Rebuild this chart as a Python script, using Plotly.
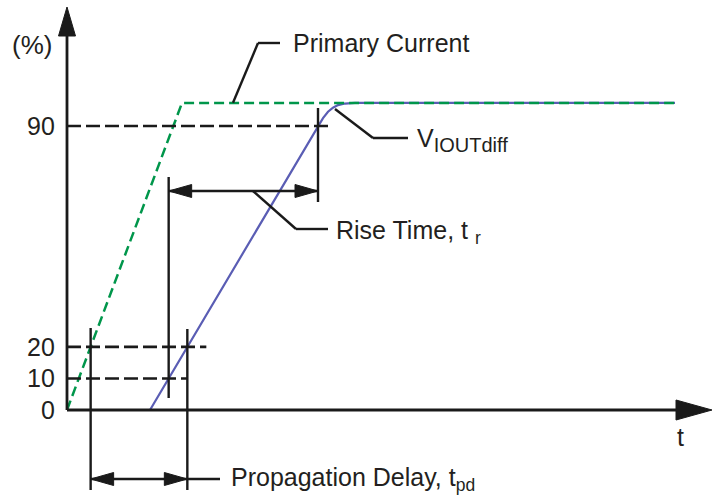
import numpy as np
import plotly.graph_objects as go

# ---- data (time in arbitrary units, signal in %) ----
primary_t = [0, 115, 608]
primary_pct = [0, 97.3, 97.3]
output_t = [83, 251, 256, 261, 266, 271, 278, 288, 608]
output_pct = [0, 90, 92.5, 94.5, 95.8, 96.6, 97.1, 97.3, 97.3]
tick_levels = [0, 10, 20, 90]
tick_labels = ["0", "10", "20", "90"]
levels = [10, 20, 90]

W, H = 719, 495
X0, Y0, KY = 67, 410, 3.156  # pixel origin and pixels per %

def X(px):
    return px - X0

def Y(py):
    return (Y0 - py) / KY

def PX(t):
    return t + X0

def PY(v):
    return Y0 - v * KY

# crossing times from the curves
def cross(ts, vs, lvl):
    vs = np.array(vs); ts = np.array(ts)
    i = int(np.argmax(vs >= vs.max()))
    return float(np.interp(lvl, vs[: i + 1], ts[: i + 1]))

t_pri20 = cross(primary_t, primary_pct, 20)
t_out10 = cross(output_t, output_pct, 10)
t_out20 = cross(output_t, output_pct, 20)
t_out90 = cross(output_t, output_pct, 90)

BLACK = "#1a1a1a"
GREEN = "#00964B"
BLUE = "#5A5DB4"
FONT = "Liberation Sans, Arial, sans-serif"

fig = go.Figure()
fig.add_trace(go.Scatter(x=output_t, y=output_pct, mode="lines",
                         line=dict(color=BLUE, width=2.2), hoverinfo="skip"))
fig.add_trace(go.Scatter(x=primary_t, y=primary_pct, mode="lines",
                         line=dict(color=GREEN, width=2.5, dash="10px,5px"), hoverinfo="skip"))

shapes = []

def line_px(x1, y1, x2, y2, width=2.4, dash=None, color=BLACK):
    d = dict(type="line", xref="x", yref="y", x0=X(x1), y0=Y(y1), x1=X(x2), y1=Y(y2),
             line=dict(color=color, width=width))
    if dash:
        d["line"]["dash"] = dash
    shapes.append(d)

def tri_px(pts):
    path = "M " + " L ".join(f"{X(a)},{Y(b)}" for a, b in pts) + " Z"
    shapes.append(dict(type="path", xref="x", yref="y", path=path,
                       fillcolor=BLACK, line=dict(color=BLACK, width=1)))

# axes
line_px(X0, Y0, X0, 30, width=2.8)
tri_px([(X0, 7), (X0 - 8.5, 36), (X0 + 8.5, 36)])
line_px(X0, Y0, 680, Y0, width=2.8)
tri_px([(712, Y0), (676, Y0 - 10), (676, Y0 + 10)])

# level guides
dash = "14px,5px"
line_px(X0, PY(90), PX(t_out90) + 10, PY(90), dash=dash, width=2.6)
line_px(X0, PY(20), PX(t_out20) + 19, PY(20), dash=dash, width=2.6)
line_px(X0, PY(10), PX(t_out20), PY(10), dash=dash, width=2.6)

# vertical markers
line_px(PX(t_pri20), 328, PX(t_pri20), 490)
line_px(PX(t_out20), 329, PX(t_out20), 490)
line_px(PX(t_out10), 177, PX(t_out10), 398)
line_px(PX(t_out90), 108, PX(t_out90), 202)

# dimension arrows
def dim(xa, xb, y, ah=23, hh=6.5):
    line_px(xa, y, xb, y)
    tri_px([(xa, y), (xa + ah, y - hh), (xa + ah, y + hh)])
    tri_px([(xb, y), (xb - ah, y - hh), (xb - ah, y + hh)])

dim(PX(t_out10), PX(t_out90), 191)
dim(PX(t_pri20), PX(t_out20), 479)
line_px(PX(t_out20), 479, 220, 479)

# leader lines
def leader(pts):
    for (a, b), (c, d) in zip(pts[:-1], pts[1:]):
        line_px(a, b, c, d)

leader([(233, 102.7), (258, 43), (280, 43)])
leader([(335, 109), (373, 138), (408, 138)])
leader([(253, 191), (296, 229), (328, 229)])

annotations = []

def text(px, py, s, anchor="left", size=25):
    annotations.append(dict(x=X(px), y=Y(py), xref="x", yref="y", text=s, showarrow=False,
                            xanchor=anchor, yanchor="middle",
                            font=dict(family=FONT, size=size, color="#231f20")))

for lv, lab in zip(tick_levels, tick_labels):
    text(57, PY(lv), lab, anchor="right")
text(32, 45, "(%)", anchor="center", size=26)
text(680, 437, "t", anchor="center")
text(291, 43, "Primary Current")
text(415, 140, 'V<sub><span style="font-size:20px">IOUTdiff</span></sub>')
text(334, 232, "Rise Time, t <sub>r</sub>")
text(229, 479, "Propagation Delay, t<sub>pd</sub>")

fig.update_layout(
    width=W, height=H,
    margin=dict(l=0, r=0, t=0, b=0),
    paper_bgcolor="white", plot_bgcolor="white",
    showlegend=False,
    xaxis=dict(range=[X(0), X(W)], visible=False, fixedrange=True),
    yaxis=dict(range=[Y(H), Y(0)], visible=False, fixedrange=True),
    shapes=shapes, annotations=annotations,
)

fig.write_html("out.html", config={"displayModeBar": False},
               post_script="document.body.style.margin='0';document.body.style.overflow='hidden';")
